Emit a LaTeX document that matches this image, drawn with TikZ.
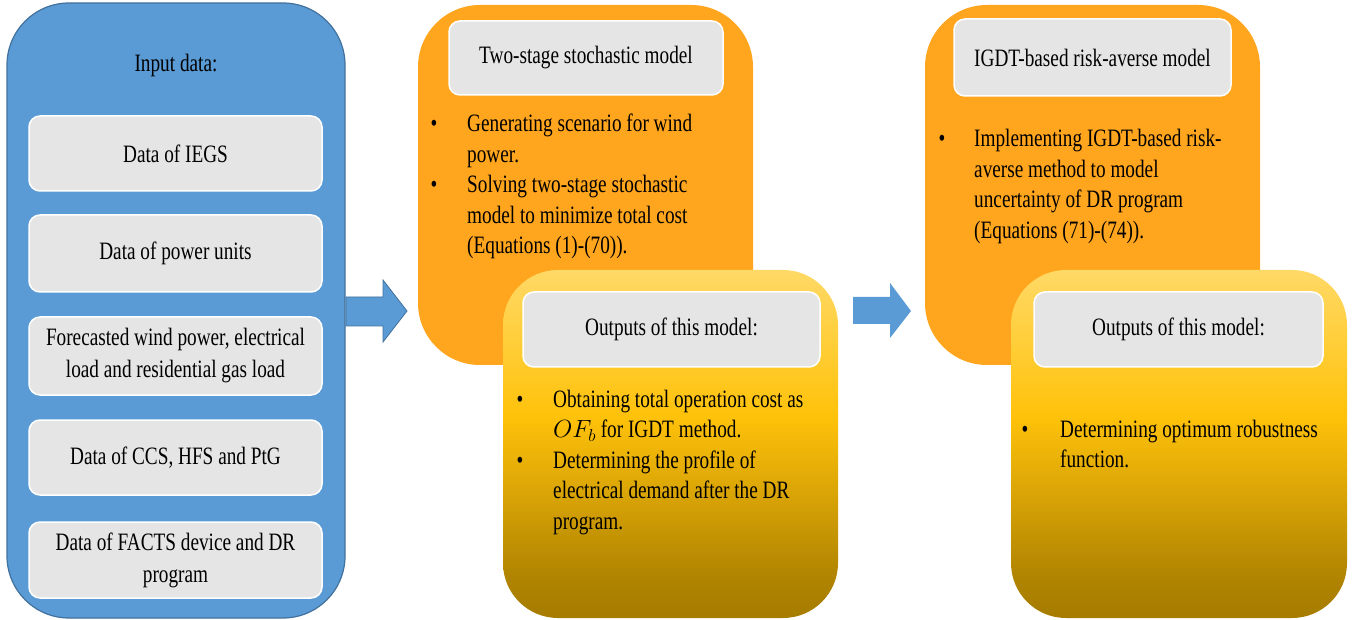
\documentclass[tikz,border=0pt]{standalone}
\usepackage{fontspec}
\setmainfont{Liberation Serif}[FakeStretch=0.77]
\definecolor{bluefill}{HTML}{5B9BD5}
\definecolor{blueedge}{HTML}{41719C}
\definecolor{boxgray}{HTML}{E5E5E5}
\definecolor{orangefill}{HTML}{FFA51E}
\definecolor{ylight}{HTML}{FFD966}
\definecolor{ymid}{HTML}{FFC20A}
\definecolor{ydark}{HTML}{A67C00}
\pgfdeclareverticalshading{yel}{100bp}{color(0bp)=(ydark); color(25bp)=(ydark); color(31bp)=(ydark!88!ymid); color(54bp)=(ymid); color(75bp)=(ylight); color(100bp)=(ylight)}
\newcommand{\lns}[1]{\begin{tabular}[t]{@{}l@{}}#1\end{tabular}}
\begin{document}
\begin{tikzpicture}[x=1pt,y=-1pt,
  txt/.style={inner sep=0pt,font=\fontsize{25}{30.5}\selectfont},
  graybox/.style={fill=boxgray,draw=white,line width=1.5pt,rounded corners=11pt,
    inner sep=0pt,align=center,font=\fontsize{25}{32}\selectfont},
  bul/.style={txt,anchor=base},
  item/.style={txt,anchor=base west},
  blockarrow/.style={fill=bluefill}]
\useasboundingbox (0,0) rectangle (1358,620);

% left input panel
\draw[fill=bluefill,draw=blueedge,line width=1.2pt,rounded corners=62pt] (7,3) rectangle (345,618);
\node[txt,anchor=base] (inp) at (176,72) {Input data:};
\node[graybox,minimum width=293pt,minimum height=75pt] (b1) at (175.5,153.5) {Data of IEGS};
\node[graybox,minimum width=293pt,minimum height=77pt] (b2) at (175.5,253.5) {Data of power units};
\node[graybox,minimum width=293pt,minimum height=78pt] (b3) at (175.5,356) {Forecasted wind power, electrical\\load and residential gas load};
\node[graybox,minimum width=293pt,minimum height=75pt] (b4) at (175.5,457.5) {Data of CCS, HFS and PtG};
\node[graybox,minimum width=293pt,minimum height=76pt] (b5) at (175.5,560) {Data of FACTS device and DR\\program};

% arrows
\draw[blockarrow,draw=blueedge,line width=0.8pt] (346,297) -- (383,297) -- (383,280) -- (407,311) -- (383,342) -- (383,326) -- (346,326) -- cycle;
\fill[blockarrow] (853,297) -- (890,297) -- (890,283) -- (911,311) -- (890,338) -- (890,324) -- (853,324) -- cycle;

% orange panels
\fill[orangefill,rounded corners=62pt] (418,5) rectangle (753,365);
\fill[orangefill,rounded corners=62pt] (925,5) rectangle (1260,365);

% yellow panels
\shade[shading=yel,rounded corners=55pt] (503,270) rectangle (838,618);
\shade[shading=yel,rounded corners=55pt] (1011,270) rectangle (1347,618);

% titles
\node[graybox,minimum width=274pt,minimum height=74pt] (t1) at (586,58) {Two-stage stochastic model};
\node[graybox,minimum width=277pt,minimum height=77pt] (t2) at (1092.5,57.5) {IGDT-based risk-averse model};
\node[graybox,minimum width=297pt,minimum height=75pt] (t3) at (671.5,329.5) {Outputs of this model:};
\node[graybox,minimum width=289pt,minimum height=75pt] (t4) at (1178.5,329.5) {Outputs of this model:};

% stage 1 bullets
\node[bul] (o1a) at (434,132) {\textbullet};
\node[item] (o1at) at (467,132) {\lns{Generating scenario for wind\\power.}};
\node[bul] (o1b) at (434,193) {\textbullet};
\node[item] (o1bt) at (467,193) {\lns{Solving two-stage stochastic\\model to minimize total cost\\(Equations (1)-(70)).}};

% stage 2 bullets
\node[bul] (o2a) at (942,147) {\textbullet};
\node[item] (o2at) at (974,147) {\lns{Implementing IGDT-based risk-\\averse method to model\\uncertainty of DR program\\(Equations (71)-(74)).}};

% outputs 1
\node[bul] (y1a) at (520,407) {\textbullet};
\node[item] (y1at) at (553,407) {\lns{Obtaining total operation cost as\\$OF_b$ for IGDT method.}};
\node[bul] (y1b) at (520,468) {\textbullet};
\node[item] (y1bt) at (553,468) {\lns{Determining the profile of\\electrical demand after the DR\\program.}};

% outputs 2
\node[bul] (y2a) at (1025,437) {\textbullet};
\node[item] (y2at) at (1060,437) {\lns{Determining optimum robustness\\function.}};
\end{tikzpicture}
\end{document}
